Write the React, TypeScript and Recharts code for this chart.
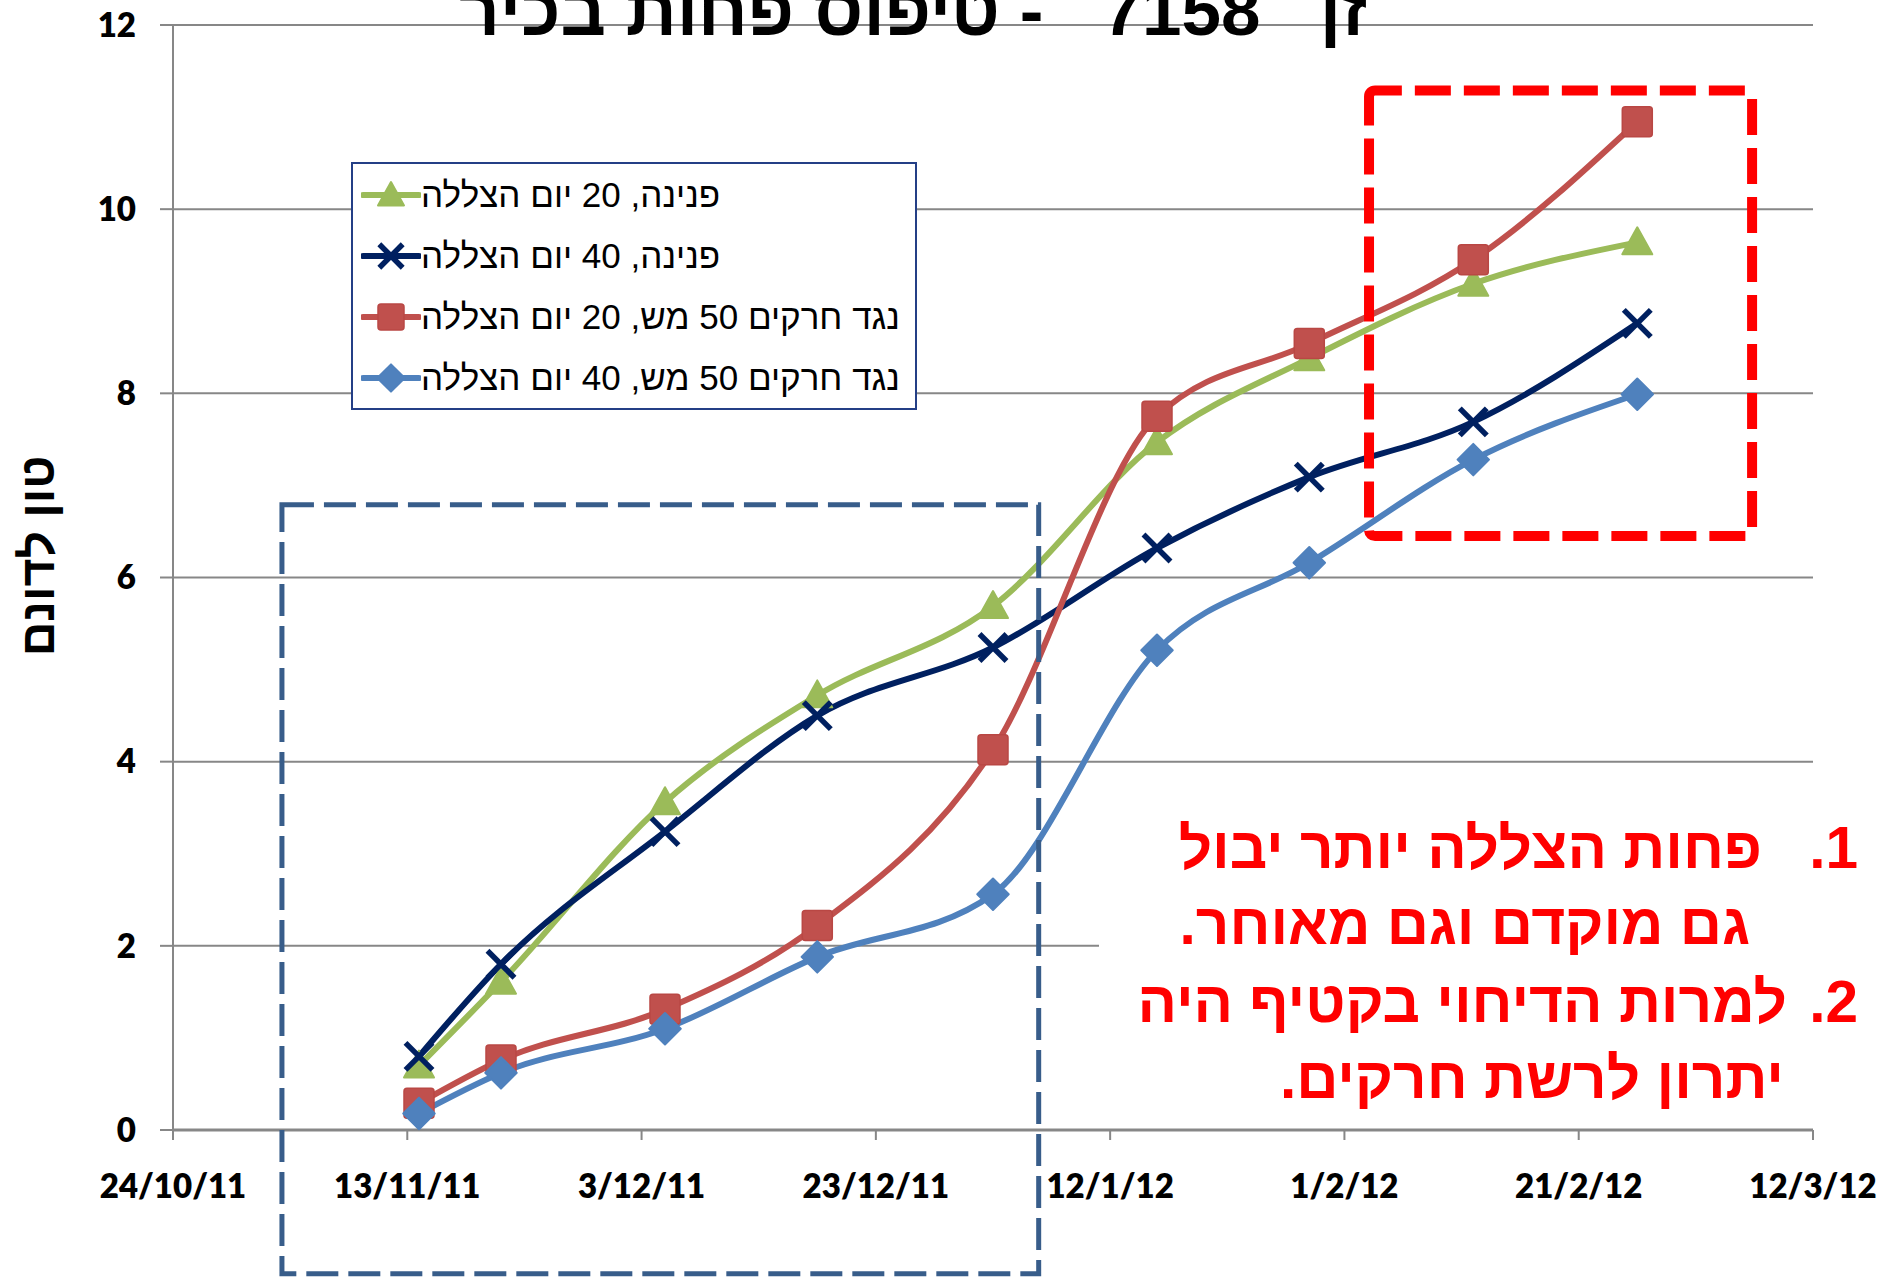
import { LineChart, Line, XAxis, YAxis, CartesianGrid, Legend, ReferenceArea } from "recharts";

// sampling dates (d/m/yy) and yields, ton per dunam
const dates = ["14/11/11", "21/11/11", "5/12/11", "18/12/11", "2/1/12", "16/1/12", "29/1/12", "12/2/12", "26/2/12"];
const pnina20 = [0.7, 1.61, 3.56, 4.72, 5.69, 7.47, 8.38, 9.19, 9.64];
const pnina40 = [0.8, 1.8, 3.24, 4.5, 5.24, 6.32, 7.09, 7.69, 8.76];
const net20 = [0.29, 0.76, 1.31, 2.22, 4.13, 7.75, 8.54, 9.45, 10.95];
const net40 = [0.18, 0.62, 1.1, 1.88, 2.56, 5.21, 6.16, 7.28, 7.99];

const tickDates = ["24/10/11", "13/11/11", "3/12/11", "23/12/11", "12/1/12", "1/2/12", "21/2/12", "12/3/12"];
const yTicks = [0, 2, 4, 6, 8, 10, 12];

const seriesNames = {
  pnina20: "פנינה, 20 יום הצללה",
  pnina40: "פנינה, 40 יום הצללה",
  net20: "נגד חרקים 50 מש, 20 יום הצללה",
  net40: "נגד חרקים 50 מש, 40 יום הצללה",
};

const COLORS = {
  pnina20: "#9BBB59",
  pnina40: "#002060",
  net20: "#C0504D",
  net40: "#4F81BD",
};

const MARKERS: Record<string, string> = {
  pnina20: "triangle",
  pnina40: "cross",
  net20: "square",
  net40: "diamond",
};

const SERIES_ORDER = Object.keys(COLORS) as (keyof typeof COLORS)[];

const GRID = "#878787";

function toDay(s: string): number {
  const [d, m, y] = s.split("/").map(Number);
  return Date.UTC(2000 + y, m - 1, d) / 86400000;
}

const day0 = toDay(tickDates[0]);
const tickDays = tickDates.map((t) => toDay(t) - day0);

const rows = dates.map((d, i) => ({
  day: toDay(d) - day0,
  pnina20: pnina20[i],
  pnina40: pnina40[i],
  net20: net20[i],
  net40: net40[i],
}));

function formatTick(v: number): string {
  const i = tickDays.indexOf(v);
  return i >= 0 ? tickDates[i] : "";
}

function Marker({ cx, cy, kind, color, s = 30 }: { cx: number; cy: number; kind: string; color: string; s?: number }) {
  const h = s / 2;
  if (kind === "triangle") {
    return <polygon points={`${cx},${cy - h} ${cx + h},${cy + h * 0.8} ${cx - h},${cy + h * 0.8}`} fill={color} stroke={color} strokeWidth={2} strokeLinejoin="round" />;
  }
  if (kind === "square") {
    return <rect x={cx - h} y={cy - h} width={s} height={s} rx={3} fill={color} stroke="#b94744" strokeWidth={1.5} />;
  }
  if (kind === "diamond") {
    const r = h * 1.05;
    return <polygon points={`${cx},${cy - r} ${cx + r},${cy} ${cx},${cy + r} ${cx - r},${cy}`} fill={color} stroke={color} strokeWidth={2} strokeLinejoin="round" />;
  }
  const c = h * 0.9;
  return (
    <g stroke={color} strokeWidth={5.5}>
      <line x1={cx - c} y1={cy - c} x2={cx + c} y2={cy + c} />
      <line x1={cx - c} y1={cy + c} x2={cx + c} y2={cy - c} />
    </g>
  );
}

const makeDot = (key: keyof typeof COLORS) => (p: any) => (
  <Marker key={`${key}-${p.index}`} cx={p.cx} cy={p.cy} kind={MARKERS[key]} color={COLORS[key]} />
);

function LegendBox({ payload }: any) {
  // keep the series order, the legend sorts by name otherwise
  const items = [...(payload || [])].sort(
    (a: any, b: any) => SERIES_ORDER.indexOf(a.dataKey) - SERIES_ORDER.indexOf(b.dataKey)
  );
  return (
    <div
      style={{
        width: "100%",
        height: "100%",
        boxSizing: "border-box",
        border: "2px solid #243F86",
        background: "#fff",
        paddingLeft: 8,
      }}
    >
      {items.map((entry: any) => {
        const key = entry.dataKey as keyof typeof COLORS;
        return (
          <div key={key} style={{ display: "flex", alignItems: "center", height: 61 }}>
            <svg width={60} height={40} style={{ flex: "none" }}>
              <line x1={2} y1={20} x2={58} y2={20} stroke={COLORS[key]} strokeWidth={6} strokeLinecap="round" />
              <Marker cx={30} cy={20} kind={MARKERS[key]} color={COLORS[key]} s={26} />
            </svg>
            <span dir="rtl" style={{ fontFamily: '"Liberation Sans", Arial, sans-serif', fontSize: 35, color: "#000", whiteSpace: "nowrap" }}>
              {entry.value}
            </span>
          </div>
        );
      })}
    </div>
  );
}

const hebBold = '"Liberation Sans", Arial, sans-serif';

function NoteLine({ text, right, baseline, size = 58.5 }: { text: string; right: number; baseline: number; size?: number }) {
  return (
    <div
      dir="rtl"
      style={{
        position: "absolute",
        right: 1888 - right,
        top: baseline - size * 0.8465,
        fontFamily: hebBold,
        fontWeight: 700,
        fontSize: size,
        lineHeight: `${size}px`,
        color: "#FF0000",
        whiteSpace: "pre",
      }}
    >
      {text}
    </div>
  );
}

export default function App() {
  return (
    <div style={{ position: "relative", width: 1888, height: 1279, overflow: "hidden", background: "#fff" }}>
      <style>{`body{margin:0}`}</style>
      <LineChart width={1888} height={1279} data={rows} margin={{ top: 25, right: 75, bottom: 0, left: 0 }}>
        <CartesianGrid horizontal vertical={false} stroke={GRID} strokeWidth={2} />
        <XAxis
          dataKey="day"
          type="number"
          domain={[tickDays[0], tickDays[tickDays.length - 1]]}
          ticks={tickDays}
          interval={0}
          tickFormatter={formatTick}
          height={149}
          tickSize={10}
          tickMargin={35}
          axisLine={{ stroke: GRID, strokeWidth: 3 }}
          tickLine={{ stroke: GRID, strokeWidth: 2 }}
          tick={{ fontFamily: "Lato, sans-serif", fontWeight: 800, fontSize: 33, fill: "#000" }}
        />
        <YAxis
          type="number"
          domain={[0, 12]}
          ticks={yTicks}
          interval={0}
          width={173}
          tickSize={13}
          tickMargin={24}
          axisLine={{ stroke: GRID, strokeWidth: 2 }}
          tickLine={{ stroke: GRID, strokeWidth: 2 }}
          tick={{ fontFamily: "Lato, sans-serif", fontWeight: 800, fontSize: 33, fill: "#000" }}
        />
        <Legend
          layout="vertical"
          align="center"
          verticalAlign="middle"
          content={<LegendBox />}
          wrapperStyle={{ left: 351, top: 162, width: 566, height: 248 }}
        />
        {SERIES_ORDER.map((key) => (
          <Line
            key={key}
            type="monotone"
            dataKey={key}
            name={seriesNames[key]}
            stroke={COLORS[key]}
            strokeWidth={6}
            dot={makeDot(key)}
            activeDot={false}
            isAnimationActive={false}
          />
        ))}
        <ReferenceArea
          x1={9.3}
          x2={73.9}
          y1={-1.56}
          y2={6.79}
          ifOverflow="visible"
          fill="none"
          fillOpacity={0}
          stroke="#385D8A"
          strokeWidth={5}
          strokeDasharray="32 10"
          zIndex={700}
        />
        <ReferenceArea
          x1={102.1}
          x2={134.8}
          y1={6.45}
          y2={11.29}
          ifOverflow="visible"
          fill="none"
          fillOpacity={0}
          stroke="#FF0000"
          strokeWidth={10}
          strokeDasharray="36 13"
          radius={6}
          zIndex={700}
        />
      </LineChart>

      {/* title, cut by the top of the slide */}
      <div
        dir="rtl"
        style={{
          position: "absolute",
          right: 1888 - 1367,
          top: 35 - 71 * 0.8465,
          fontFamily: hebBold,
          fontWeight: 700,
          fontSize: 71,
          lineHeight: "71px",
          color: "#000",
          whiteSpace: "pre",
        }}
      >
        {"זן   7158   - טיפוס פחות בכיר"}
      </div>

      {/* y axis title */}
      <div
        dir="rtl"
        style={{
          position: "absolute",
          left: 38,
          top: 556,
          transform: "translate(-50%, -50%) rotate(-90deg)",
          fontFamily: hebBold,
          fontWeight: 700,
          fontSize: 48,
          lineHeight: "48px",
          whiteSpace: "nowrap",
          color: "#000",
        }}
      >
        טון לדונם
      </div>

      {/* conclusions box */}
      <div style={{ position: "absolute", left: 1099, top: 790, width: 789, height: 322, background: "#fff" }} />
      <NoteLine text="1." right={1858} baseline={869} />
      <NoteLine text="פחות הצללה יותר יבול" right={1762} baseline={869} />
      <NoteLine text="גם מוקדם וגם מאוחר." right={1750} baseline={945} />
      <NoteLine text="2." right={1858} baseline={1023} />
      <NoteLine text="למרות הדיחוי בקטיף היה" right={1787} baseline={1023} />
      <NoteLine text="יתרון לרשת חרקים." right={1784} baseline={1099} />
    </div>
  );
}
